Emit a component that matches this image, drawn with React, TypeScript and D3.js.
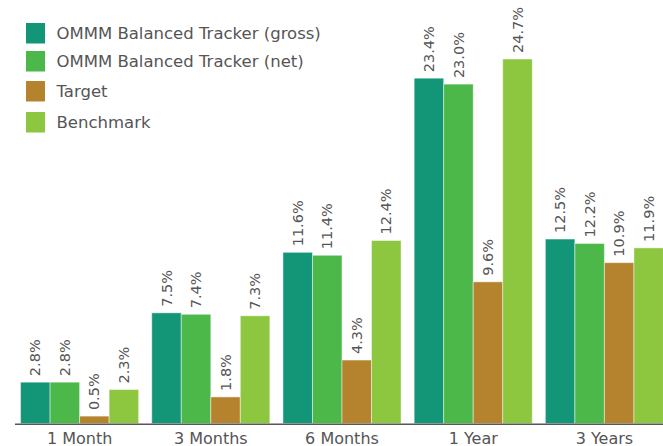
import React from "react";
import * as d3 from "d3";

const categories = ["1 Month", "3 Months", "6 Months", "1 Year", "3 Years"];
const seriesNames = [
  "OMMM Balanced Tracker (gross)",
  "OMMM Balanced Tracker (net)",
  "Target",
  "Benchmark",
];
const grossValues = [2.8, 7.5, 11.6, 23.4, 12.5];
const netValues = [2.8, 7.4, 11.4, 23.0, 12.2];
const targetValues = [0.5, 1.8, 4.3, 9.6, 10.9];
const benchmarkValues = [2.3, 7.3, 12.4, 24.7, 11.9];
const seriesColors = ["#139678", "#4cb84a", "#b5832e", "#8dc63f"];

const W = 663;
const H = 446;
const FONT = "'DejaVu Sans', sans-serif";

export default function App() {
  const allSeries = [grossValues, netValues, targetValues, benchmarkValues];
  const x0 = d3
    .scaleBand<string>()
    .domain(categories)
    .range([14, 670])
    .paddingInner(0.1)
    .paddingOuter(0.05);
  const x1 = d3
    .scaleBand<string>()
    .domain(seriesNames)
    .range([0, x0.bandwidth()])
    .padding(0);
  const y = d3.scaleLinear().domain([0, 28.7]).range([423.5, 0]);

  const legendY = [33, 61, 91, 122];

  return (
    <div style={{ position: "absolute", left: 0, top: 0 }}>
      <svg width={W} height={H} style={{ display: "block" }}>
        <rect width={W} height={H} fill="#fff" />
        {categories.map((c, ci) => (
          <g key={c} transform={`translate(${x0(c)},0)`}>
            {seriesNames.map((s, si) => {
              const v = allSeries[si][ci];
              const bx = x1(s)!;
              const bw = x1.bandwidth();
              const top = y(v);
              return (
                <g key={s}>
                  <rect
                    x={bx}
                    y={top}
                    width={bw}
                    height={y(0) - top}
                    fill={seriesColors[si]}
                    stroke="rgba(255,255,255,0.45)"
                    strokeWidth={1}
                  />
                  <text
                    transform={`translate(${bx + bw / 2},${top - 6}) rotate(-90)`}
                    dy="0.35em"
                    fontFamily={FONT}
                    fontSize={14.5}
                    fill="#555"
                  >
                    {v.toFixed(1)}%
                  </text>
                </g>
              );
            })}
            <text
              x={x0.bandwidth() / 2}
              y={444}
              textAnchor="middle"
              fontFamily={FONT}
              fontSize={16}
              fill="#555"
            >
              {c}
            </text>
          </g>
        ))}
        <line x1={15} x2={W} y1={424.3} y2={424.3} stroke="#555" strokeWidth={1.5} />
        {seriesNames.map((s, i) => (
          <g key={s}>
            <rect x={26} y={legendY[i] - 10} width={19} height={20.5} fill={seriesColors[i]} />
            <text
              x={56.5}
              y={legendY[i]}
              dy="0.35em"
              fontFamily={FONT}
              fontSize={16.5}
              fill="#555"
            >
              {s}
            </text>
          </g>
        ))}
      </svg>
    </div>
  );
}
